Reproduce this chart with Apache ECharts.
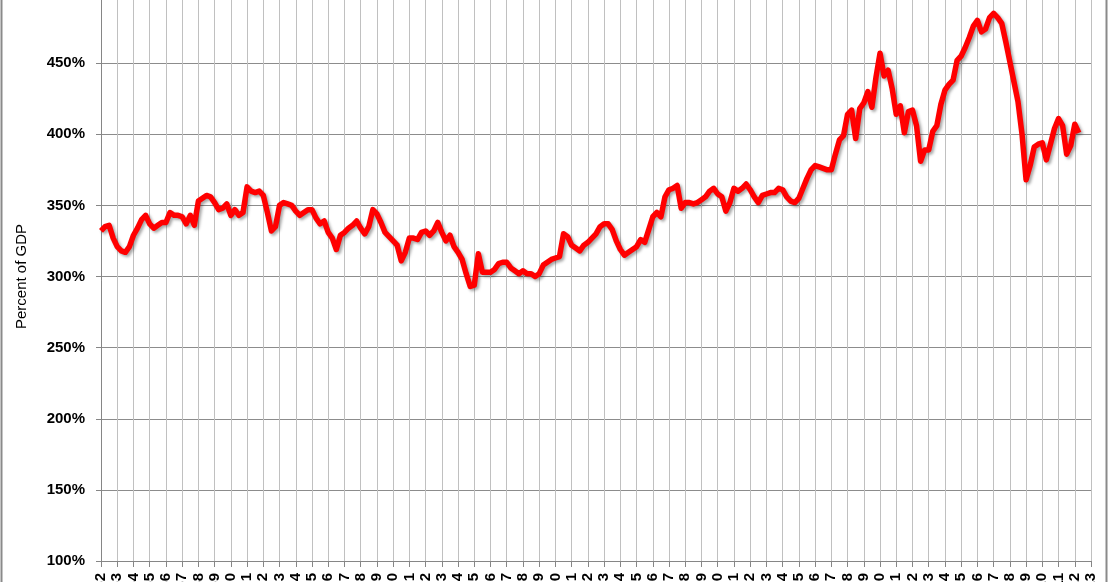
<!DOCTYPE html>
<html><head><meta charset="utf-8">
<script src="https://cdn.jsdelivr.net/npm/echarts@6/dist/echarts.min.js"></script>
<style>html,body{margin:0;padding:0;background:#fff}#c{width:1108px;height:582px}</style>
</head><body><div id="c"></div><script>
// Household net worth as percent of GDP, quarterly from 1952 Q1
const startYear = 1952;
const endYear = 2013;
const yMin = 100, yMax = 500, yStep = 50;
const netWorthPct = [
  332, 335, 336, 327,  // 1952
  321, 318, 317, 321,  // 1953
  329, 334, 340, 343,  // 1954
  337, 334, 336, 338,  // 1955
  338, 345, 343, 343,  // 1956
  342, 337, 343, 336,  // 1957
  353, 355, 357, 356,  // 1958
  352, 347, 348, 351,  // 1959
  343, 347, 343, 345,  // 1960
  363, 360, 359, 360,  // 1961
  357, 345, 332, 335,  // 1962
  350, 352, 351, 350,  // 1963
  346, 343, 345, 347,  // 1964
  347, 341, 337, 339,  // 1965
  331, 327, 319, 329,  // 1966
  331, 334, 336, 339,  // 1967
  334, 330, 335, 347,  // 1968
  344, 338, 331, 328,  // 1969
  325, 322, 311, 317,  // 1970
  327, 327, 326, 331,  // 1971
  332, 329, 332, 338,  // 1972
  331, 325, 329, 321,  // 1973
  317, 312, 302, 293,  // 1974
  294, 316, 303, 303,  // 1975
  303, 305, 309, 310,  // 1976
  310, 306, 304, 302,  // 1977
  304, 302, 302, 300,  // 1978
  302, 308, 310, 312,  // 1979
  313, 314, 330, 328,  // 1980
  322, 320, 318, 322,  // 1981
  324, 327, 330, 335,  // 1982
  337, 337, 333, 325,  // 1983
  319, 315, 317, 319,  // 1984
  321, 326, 324, 333,  // 1985
  342, 345, 342, 356,  // 1986
  361, 362, 364, 348,  // 1987
  352, 352, 351, 352,  // 1988
  354, 356, 360, 362,  // 1989
  358, 356, 346, 352,  // 1990
  362, 360, 362, 365,  // 1991
  361, 356, 352, 357,  // 1992
  358, 359, 359, 362,  // 1993
  361, 356, 353, 352,  // 1994
  355, 362, 369, 375,  // 1995
  378, 377, 376, 375,  // 1996
  375, 386, 396, 399,  // 1997
  414, 417, 397, 418,  // 1998
  422, 430, 419, 440,  // 1999
  457, 441, 445, 432,  // 2000
  414, 420, 401, 416,  // 2001
  417, 406, 381, 389,  // 2002
  389, 402, 406, 421,  // 2003
  431, 435, 438, 452,  // 2004
  455, 461, 468, 476,  // 2005
  480, 472, 474, 482,  // 2006
  485, 482, 478, 465,  // 2007
  451, 437, 423, 400,  // 2008
  368, 378, 391, 393,  // 2009
  394, 382, 393, 404,  // 2010
  411, 406, 386, 392,  // 2011
  407, 401             // 2012
];

const seriesData = netWorthPct.map((v, i) => [startYear + i / 4, v]);

const chart = echarts.init(document.getElementById('c'), null, {renderer: 'canvas'});
chart.setOption({
  animation: false,
  backgroundColor: '#ffffff',
  grid: {left: 101, right: 17, top: -8, bottom: 21, containLabel: false, outerBoundsMode: 'none'},
  xAxis: {
    type: 'value', min: startYear, max: endYear, interval: 1,
    axisLine: {show: true, lineStyle: {color: '#868686', width: 1}},
    axisTick: {show: true, inside: false, length: 6, lineStyle: {color: '#868686'}},
    splitLine: {show: true, lineStyle: {color: '#c0c0c0', width: 1}},
    axisLabel: {
      rotate: 90, margin: 12, color: '#000', fontFamily: 'Liberation Sans, Arial, sans-serif',
      fontWeight: 'bold', fontSize: 15, formatter: v => String(v)
    }
  },
  yAxis: {
    type: 'value', min: yMin, max: yMax, interval: yStep,
    name: 'Percent of GDP', nameLocation: 'middle', nameGap: 72,
    nameTextStyle: {color: '#000', fontFamily: 'Liberation Sans, Arial, sans-serif', fontSize: 15},
    axisLine: {show: true, lineStyle: {color: '#868686', width: 1}},
    axisTick: {show: true, inside: false, length: 5, lineStyle: {color: '#868686'}},
    splitLine: {show: true, lineStyle: {color: '#8c8c8c', width: 1}},
    axisLabel: {
      margin: 16, color: '#000', fontFamily: 'Liberation Sans, Arial, sans-serif',
      fontWeight: 'bold', fontSize: 15, formatter: '{value}%'
    }
  },
  graphic: [
    {type: 'line', shape: {x1: 1.5, y1: 0, x2: 1.5, y2: 582}, style: {stroke: '#8a8a8a', lineWidth: 2}, silent: true},
    {type: 'line', shape: {x1: 1106.5, y1: 0, x2: 1106.5, y2: 582}, style: {stroke: '#8a8a8a', lineWidth: 2}, silent: true}
  ],
  series: [{
    type: 'line', data: seriesData, showSymbol: false, symbol: 'none', smooth: false,
    lineStyle: {color: '#ff0000', width: 5.5, join: 'round', shadowColor: 'rgba(0,0,0,0.35)', shadowBlur: 3, shadowOffsetX: 2, shadowOffsetY: 2},
    itemStyle: {color: '#ff0000'}
  }]
});
</script></body></html>
